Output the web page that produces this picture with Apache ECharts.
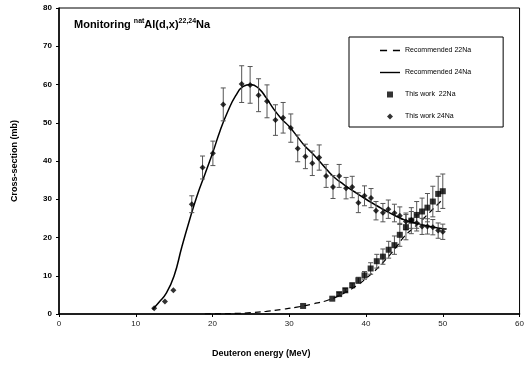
<!DOCTYPE html>
<html>
<head>
<meta charset="utf-8">
<script src="https://cdn.jsdelivr.net/npm/echarts@6/dist/echarts.min.js"></script>
<style>html,body{margin:0;padding:0;background:#fff;}#c{width:527px;height:365px;}</style>
</head>
<body>
<div id="c"></div>
<script>
// Measured data: this work 24Na [E (MeV), cross-section (mb), error]
const thisWork24Na = [
  [12.4,1.5,0],[13.8,3.3,0],[14.9,6.2,0],[17.3,28.7,2.2],[18.7,38.3,3.0],[20.05,42.0,3.2],
  [21.4,54.8,4.3],[23.8,60.1,4.8],[24.9,59.9,4.8],[26.0,57.2,4.3],[27.1,55.6,4.3],[28.2,50.7,4.0],
  [29.2,51.3,4.0],[30.2,48.6,3.7],[31.1,43.3,3.5],[32.1,41.2,3.2],[33.0,39.4,3.2],[33.9,40.9,3.3],
  [34.8,36.1,3.0],[35.7,33.2,3.0],[36.5,36.1,3.0],[37.4,32.9,2.8],[38.2,33.2,2.8],[39.0,29.1,2.6],
  [39.8,30.9,2.6],[40.65,30.3,2.5],[41.3,27.0,2.4],[42.2,26.5,2.4],[42.9,27.4,2.4],[43.7,26.4,2.3],
  [44.4,25.7,2.3],[45.2,24.2,2.2],[45.9,24.6,2.2],[46.6,23.8,2.1],[47.3,22.9,2.1],[48.0,22.9,2.0],
  [48.7,22.7,2.0],[49.4,21.8,2.0],[50.0,21.5,2.0]
];
// Measured data: this work 22Na [E, cross-section, error]
const thisWork22Na = [
  [31.8,2.1,0],[35.6,4.0,0],[36.5,5.2,0.4],[37.3,6.2,0.5],[38.2,7.5,0.6],[39.0,8.8,0.8],
  [39.8,10.1,1.0],[40.6,11.9,1.5],[41.4,13.8,1.8],[42.2,15.0,2.0],[42.95,16.8,2.2],[43.7,18.0,2.4],
  [44.4,20.7,3.0],[45.2,22.7,3.3],[45.9,24.4,3.4],[46.6,25.9,3.5],[47.3,26.8,3.5],[48.0,27.8,3.7],
  [48.7,29.4,4.0],[49.4,31.4,4.6],[50.0,32.1,4.5]
];
// Recommended curves [E, cross-section]
const recommended24Na = [
  [12.2,1.2],[13,3],[14,5.5],[15,10],[16,17.5],[17,24.5],[18,31],[19,36.5],[20,42],[21,48],
  [22,53],[23,57],[24,59.5],[25,60],[26,59],[27,56.5],[28,53.5],[29,51],[30,49],[31,46.5],
  [32,44],[33,42],[34,39.8],[35,37.5],[36,35.5],[37,34],[38,32.6],[39,31.3],[40,30],[41,28.8],
  [42,27.6],[43,26.5],[44,25.5],[45,24.6],[46,24],[47,23.5],[48,23],[49,22.6],[50,22.3],[50.5,22.2]
];
const recommended22Na = [
  [19,0],[21,0.05],[23,0.15],[25,0.35],[27,0.7],[29,1.2],[31,1.8],[33,2.6],[35,3.6],[37,5.3],
  [39,7.7],[40,9.3],[41,11],[42,13],[43,15.2],[44,17.7],[45,20.3],[46,22.2],[47,24],[48,26],
  [49,28],[50,30]
];
const xTicks = {min:0, max:60, interval:10};
const yTicks = {min:0, max:80, interval:10};
const names = ['Recommended 22Na','Recommended 24Na','This work  22Na','This work 24Na'];

const FONT = '"Liberation Sans", Arial, sans-serif';

function errorBar(color) {
  return function (params, api) {
    const x = api.value(0), y = api.value(1), e = api.value(2);
    if (!e) return null;
    const top = api.coord([x, y + e]);
    const bot = api.coord([x, y - e]);
    const hw = 2.5;
    const st = {stroke: color, lineWidth: 1};
    return {type:'group', children:[
      {type:'line', shape:{x1:top[0],y1:top[1],x2:bot[0],y2:bot[1]}, style:st},
      {type:'line', shape:{x1:top[0]-hw,y1:top[1],x2:top[0]+hw,y2:top[1]}, style:st},
      {type:'line', shape:{x1:bot[0]-hw,y1:bot[1],x2:bot[0]+hw,y2:bot[1]}, style:st}
    ]};
  };
}

const chart = echarts.init(document.getElementById('c'), null, {renderer:'canvas'});
chart.setOption({
  animation:false,
  backgroundColor:'#fff',
  textStyle:{fontFamily:FONT},
  title:{
    text:'{a|Monitoring }{s|nat}{a|Al(d,x)}{s|22,24}{a|Na}',
    left:69, top:13,
    textStyle:{rich:{
      a:{fontSize:11, fontWeight:'bold', color:'#000', fontFamily:FONT, lineHeight:14},
      s:{fontSize:7, fontWeight:'bold', color:'#000', fontFamily:FONT, verticalAlign:'top', lineHeight:14}
    }}
  },
  grid:{left:59, right:7, top:8, bottom:51, show:true, borderColor:'#000', borderWidth:1, backgroundColor:'transparent'},
  legend:{
    orient:'vertical', left:349, top:37,
    padding:[10,32,7,31], itemGap:15, itemWidth:20, itemHeight:6,
    borderColor:'#000', borderWidth:1, backgroundColor:'#fff',
    textStyle:{fontSize:7, color:'#000', fontFamily:FONT},
    data:[
      {name:names[0], icon:'path://M0,0L6,0L6,1.4L0,1.4Z M11,0L17,0L17,1.4L11,1.4Z', itemStyle:{color:'#000', borderWidth:0}},
      {name:names[1], icon:'path://M0,0L20,0L20,1.4L0,1.4Z', itemStyle:{color:'#000', borderWidth:0}},
      {name:names[2], icon:'path://M0,0L1,0L1,1L0,1Z'},
      {name:names[3], icon:'path://M0.5,0L1,0.5L0.5,1L0,0.5Z'}
    ]
  },
  xAxis:{
    type:'value', min:xTicks.min, max:xTicks.max, interval:xTicks.interval,
    axisLine:{show:true, lineStyle:{color:'#000', width:1.5}},
    axisTick:{show:true, length:3, lineStyle:{color:'#000'}},
    axisLabel:{fontSize:8, color:'#222', margin:6, fontFamily:FONT},
    splitLine:{show:false}
  },
  yAxis:{
    type:'value', min:yTicks.min, max:yTicks.max, interval:yTicks.interval,
    name:'Cross-section (mb)', nameLocation:'middle', nameGap:40,
    nameTextStyle:{fontSize:9, fontWeight:'bold', color:'#000', fontFamily:FONT},
    axisLine:{show:true, lineStyle:{color:'#000', width:1.5}},
    axisTick:{show:true, length:3, lineStyle:{color:'#000'}},
    axisLabel:{fontSize:8, fontWeight:'bold', color:'#000', margin:7, fontFamily:FONT},
    splitLine:{show:false}
  },
  graphic:[
    {type:'text', left:212, top:349, style:{text:'Deuteron energy (MeV)', font:'bold 9px '+FONT, fill:'#000'}}
  ],
  series:[
    {name:names[0], type:'line', data:recommended22Na, smooth:true, showSymbol:false,
     lineStyle:{color:'#000', width:1.2, type:[6,4]}, itemStyle:{color:'#000'}, z:2},
    {name:names[1], type:'line', data:recommended24Na, smooth:true, showSymbol:false,
     lineStyle:{color:'#000', width:1.5}, itemStyle:{color:'#000'}, z:2},
    {type:'custom', data:thisWork22Na, renderItem:errorBar('#555'), encode:{x:0,y:[1,2]}, z:3, silent:true},
    {type:'custom', data:thisWork24Na, renderItem:errorBar('#555'), encode:{x:0,y:[1,2]}, z:3, silent:true},
    {name:names[2], type:'scatter', data:thisWork22Na.map(d=>[d[0],d[1]]), symbol:'rect', symbolSize:6,
     itemStyle:{color:'#000'}, z:4},
    {name:names[3], type:'scatter', data:thisWork24Na.map(d=>[d[0],d[1]]), symbol:'diamond', symbolSize:6,
     itemStyle:{color:'#000'}, z:4}
  ]
});
</script>
</body>
</html>
